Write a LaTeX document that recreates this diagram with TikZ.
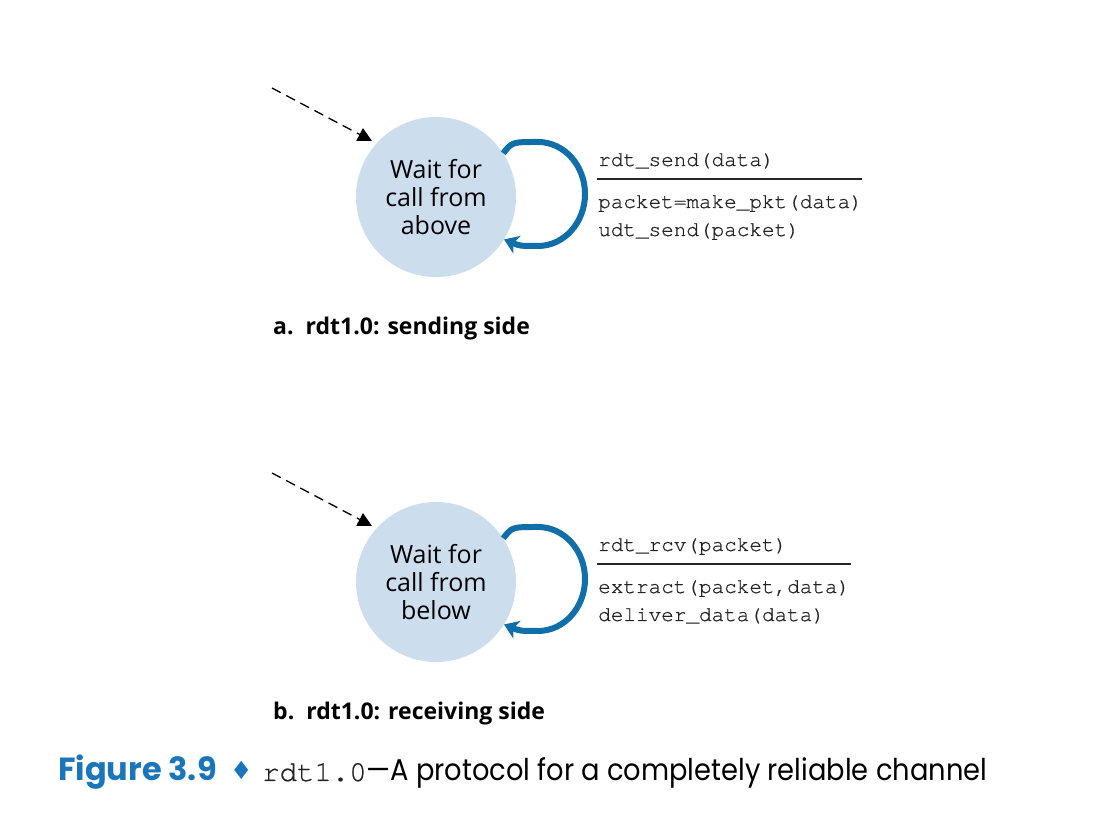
\documentclass[tikz,border=0pt]{standalone}
\usepackage{fontspec}
\setmainfont{Open Sans}
\setmonofont[FakeBold=0.6]{texgyrecursor-regular.otf}
\newfontfamily\capfont{Poppins}
\newfontfamily\symfont{DejaVu Sans}
\usetikzlibrary{arrows.meta}
\definecolor{stfill}{RGB}{204,222,238}
\definecolor{loopblue}{RGB}{16,110,168}
\definecolor{capblue}{RGB}{26,117,187}
\definecolor{codegray}{RGB}{35,35,35}
\tikzset{
  state/.style={circle, fill=stfill, minimum size=160pt, inner sep=0pt, align=center,
    font=\fontsize{25}{28}\selectfont, text=black},
  selfloop/.style={draw=loopblue, line width=6pt, -{Stealth[length=14pt,width=19pt,inset=4pt]}},
  initarrow/.style={draw=black, line width=1.3pt, dash pattern=on 10pt off 6pt, shorten >=5pt,
    -{Triangle[length=14pt,width=14pt]}},
  code/.style={anchor=base west, inner sep=0pt, text=codegray, font=\ttfamily\fontsize{21}{25}\selectfont},
  rule/.style={draw=black!85, line width=1.5pt},
  sublabel/.style={anchor=base west, inner sep=0pt, text=black, font=\bfseries\fontsize{23}{27}\selectfont},
  capt/.style={anchor=base west, inner sep=0pt}
}
\begin{document}
\begin{tikzpicture}[x=1pt,y=1pt]
\useasboundingbox[fill=white] (0,0) rectangle (1097,818);
% ---- sending side ----
\node[state] (c1) at (436,621) {Wait for\\call from\\above};
\coordinate (s1) at (272,730);
\draw[initarrow] (s1) -- (c1.138);
\draw[selfloop] (c1.33) .. controls (512,676) .. (538,676)
   arc[start angle=90, end angle=-90, x radius=47, y radius=52]
   .. controls (520,572) .. (c1.-32);
\node[code] (t1) at (598,652) {rdt\_send(data)};
\coordinate (r1a) at (597,639);
\coordinate (r1b) at (862,639);
\draw[rule] (r1a) -- (r1b);
\node[code] (a1) at (598,610) {packet=make\_pkt(data)};
\node[code] (a2) at (598,582) {udt\_send(packet)};
\node[sublabel] (la) at (273,483) {a.\hspace{12pt}rdt1.0: sending side};
% ---- receiving side ----
\begin{scope}[yshift=-385pt]
\node[state] (c2) at (436,621) {Wait for\\call from\\below};
\coordinate (s2) at (272,730);
\draw[initarrow] (s2) -- (c2.138);
\draw[selfloop] (c2.33) .. controls (512,676) .. (538,676)
   arc[start angle=90, end angle=-90, x radius=47, y radius=52]
   .. controls (520,572) .. (c2.-32);
\node[code] (t2) at (598,652) {rdt\_rcv(packet)};
\coordinate (r2a) at (597,639);
\coordinate (r2b) at (851,639);
\draw[rule] (r2a) -- (r2b);
\node[code] (b1) at (598,610) {extract(packet,data)};
\node[code] (b2) at (598,582) {deliver\_data(data)};
\node[sublabel] (lb) at (273,483) {b.\hspace{12pt}rdt1.0: receiving side};
\end{scope}
% ---- caption ----
\node[capt, text=capblue, font=\capfont\bfseries\fontsize{32}{36}\selectfont] (fig) at (58,37) {Figure 3.9};
\node[capt, text=capblue, font=\symfont\fontsize{25}{28}\selectfont] (dia) at (230,38) {♦};
\node[capt, text=codegray, font=\ttfamily\fontsize{29}{34}\selectfont] (rdt) at (262,37) {rdt1.0};
\node[capt, text=black, font=\capfont\fontsize{30}{34}\selectfont] (rest) at (366,37) {\scalebox{0.91}[1]{—A protocol for a completely reliable channel}};
\end{tikzpicture}
\end{document}
